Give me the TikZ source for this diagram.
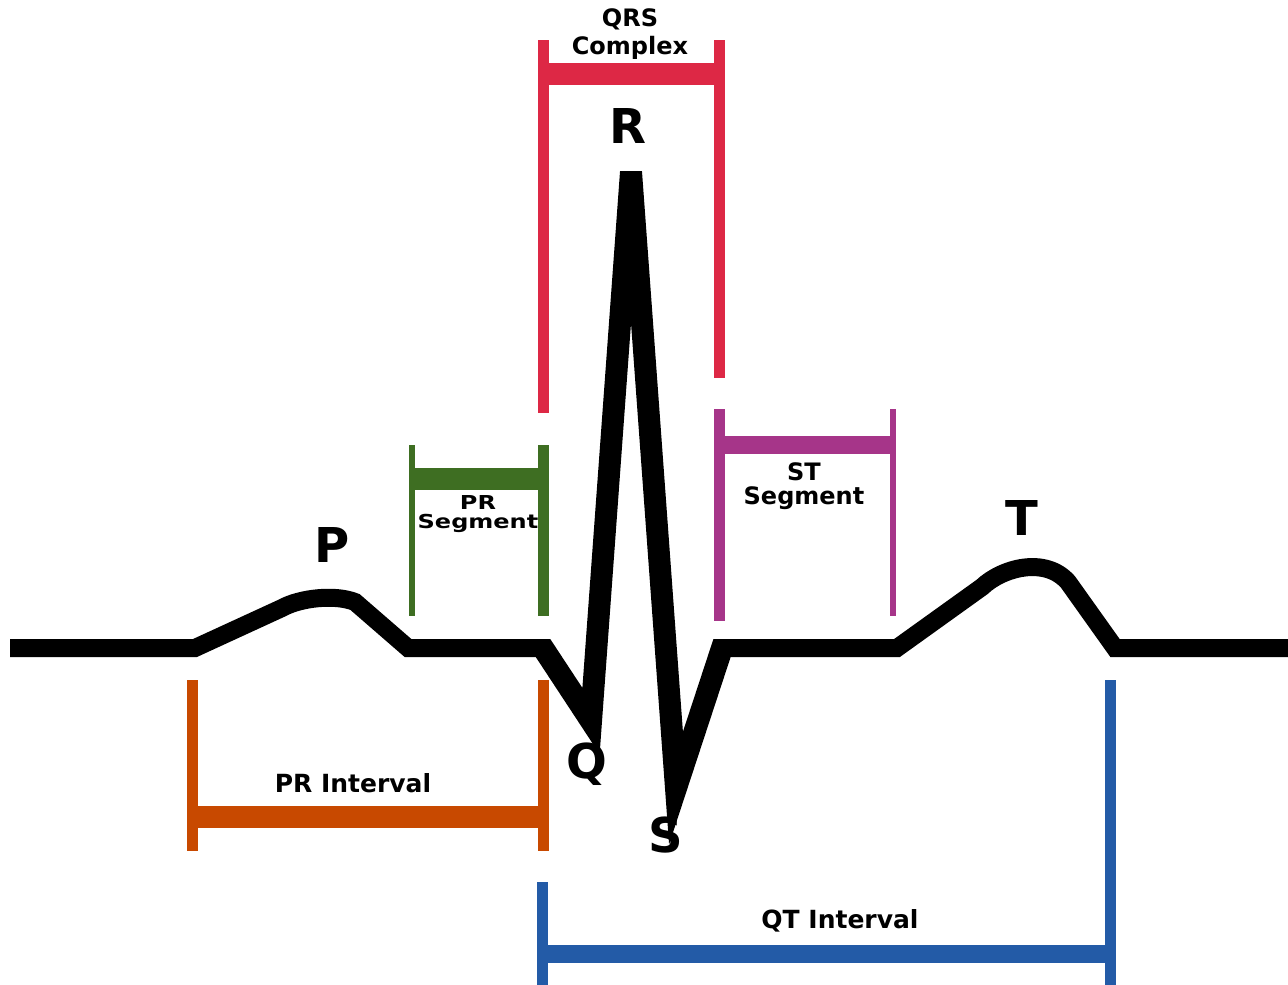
\documentclass[tikz,border=0pt]{standalone}
\usepackage{fontspec}
\setmainfont{DejaVu Sans}
\definecolor{qrsred}{RGB}{221,40,69}
\definecolor{prgreen}{RGB}{62,110,34}
\definecolor{stpurple}{RGB}{166,53,137}
\definecolor{prorange}{RGB}{200,73,0}
\definecolor{qtblue}{RGB}{35,91,167}
\begin{document}
\begin{tikzpicture}[x=1pt,y=-1pt,
  wave/.style={line width=18pt, black, line join=miter},
  spike/.style={line width=22pt, black, line join=miter},
  big/.style={font=\fontsize{48}{50}\selectfont\bfseries, inner sep=0pt, anchor=base},
  small/.style={font=\fontsize{24}{26}\selectfont\bfseries, inner sep=0pt, align=center},
  widetick/.style={line width=11pt},
  thintick/.style={line width=6pt},
  thickbar/.style={line width=22pt},
  slimbar/.style={line width=18pt}]
\useasboundingbox (0,0) rectangle (1288,985);
\fill[white] (0,0) rectangle (1288,985);

% ECG trace
\draw[wave] (10,648) -- (195,648) -- (282,608)
  .. controls (300,598) and (335,594) .. (355,602) -- (408,648) -- (543,648)
  -- (591,721) -- (631,172) -- (676,788) -- (722,648) -- (897,648) -- (982,587)
  .. controls (1002,568) and (1045,556) .. (1068,582) -- (1115,648) -- (1288,648);
% thicker QRS strokes
\begin{scope}
  \clip (0,639) -- (560,639) -- (560,0) -- (700,0) -- (700,639) -- (1288,639)
    -- (1288,985) -- (0,985) -- cycle;
  \draw[spike] (528.6,626.1) -- (591,721) -- (631,172) -- (676,788) -- (731.4,619.5);
\end{scope}

% wave letters
\node[big] (P) at (332,562) {P};
\node[big] (R) at (628,143) {R};
\node[big] (Q) at (587,778) {Q};
\node[big] (S) at (666,852) {S};
\node[big] (T) at (1022,535) {T};

% interval labels
\node[small, anchor=north, font=\fontsize{24}{28}\selectfont\bfseries] (qrslab) at (630,8) {QRS\\Complex};
\node[inner sep=0pt, anchor=north, font=\fontsize{24}{22}\selectfont\bfseries] (prseglab) at (478,495)
  {\scalebox{1}[0.8]{\begin{tabular}{@{}c@{}}PR\\Segment\end{tabular}}};
\node[small, anchor=north, font=\fontsize{24}{24}\selectfont\bfseries] (stseglab) at (804,462) {ST\\Segment};
\node[small, anchor=base, font=\fontsize{25}{27}\selectfont\bfseries] (printlab) at (353,792) {PR Interval};
\node[small, anchor=base, font=\fontsize{25}{27}\selectfont\bfseries] (qtintlab) at (840,928) {QT Interval};

% QRS complex bracket
\coordinate (qrsLt) at (543.5,40);  \coordinate (qrsLb) at (543.5,413);
\coordinate (qrsRt) at (719.5,40);  \coordinate (qrsRb) at (719.5,378);
\coordinate (qrsBl) at (543.5,73.5); \coordinate (qrsBr) at (719.5,73.5);
\draw[qrsred, widetick] (qrsLt) -- (qrsLb);
\draw[qrsred, widetick] (qrsRt) -- (qrsRb);
\draw[qrsred, thickbar] (qrsBl) -- (qrsBr);

% PR segment bracket
\coordinate (prsLt) at (412,445);  \coordinate (prsLb) at (412,616);
\coordinate (prsRt) at (543.5,445); \coordinate (prsRb) at (543.5,616);
\coordinate (prsBl) at (412,479);  \coordinate (prsBr) at (543.5,479);
\draw[prgreen, thintick] (prsLt) -- (prsLb);
\draw[prgreen, widetick] (prsRt) -- (prsRb);
\draw[prgreen, thickbar] (prsBl) -- (prsBr);

% ST segment bracket
\coordinate (stsLt) at (719.5,409); \coordinate (stsLb) at (719.5,621);
\coordinate (stsRt) at (892.5,409); \coordinate (stsRb) at (892.5,616);
\coordinate (stsBl) at (719.5,445); \coordinate (stsBr) at (892.5,445);
\draw[stpurple, widetick] (stsLt) -- (stsLb);
\draw[stpurple, thintick] (stsRt) -- (stsRb);
\draw[stpurple, slimbar] (stsBl) -- (stsBr);

% PR interval bracket
\coordinate (priLt) at (192,680);   \coordinate (priLb) at (192,851);
\coordinate (priRt) at (543.5,680); \coordinate (priRb) at (543.5,851);
\coordinate (priBl) at (192,817);   \coordinate (priBr) at (543.5,817);
\draw[prorange, widetick] (priLt) -- (priLb);
\draw[prorange, widetick] (priRt) -- (priRb);
\draw[prorange, thickbar] (priBl) -- (priBr);

% QT interval bracket
\coordinate (qtiLt) at (542.5,882);  \coordinate (qtiLb) at (542.5,985);
\coordinate (qtiRt) at (1110.5,680); \coordinate (qtiRb) at (1110.5,985);
\coordinate (qtiBl) at (542.5,954);  \coordinate (qtiBr) at (1110.5,954);
\draw[qtblue, widetick] (qtiLt) -- (qtiLb);
\draw[qtblue, widetick] (qtiRt) -- (qtiRb);
\draw[qtblue, slimbar] (qtiBl) -- (qtiBr);
\end{tikzpicture}
\end{document}
